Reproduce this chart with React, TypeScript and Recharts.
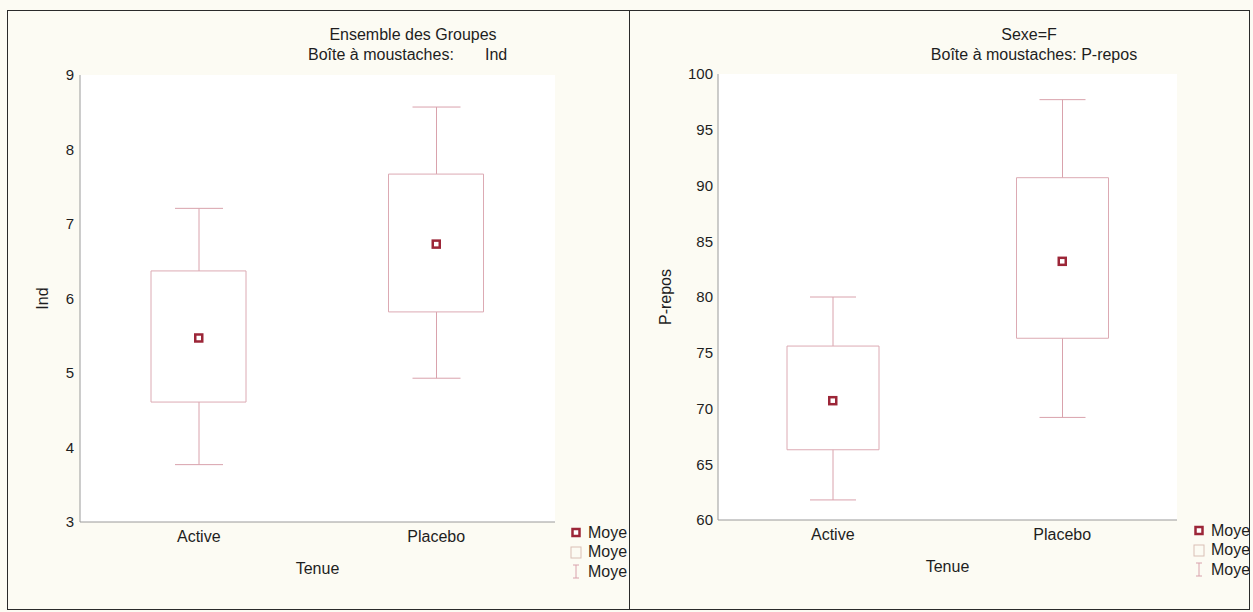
import React from "react";
import { ComposedChart, Bar, Line, XAxis, YAxis, CartesianGrid } from "recharts";

const categories = ["Active", "Placebo"];

// Ensemble des Groupes - Ind
const indMin = [3.77, 4.93];
const indQ1 = [4.61, 5.82];
const indMean = [5.47, 6.73];
const indQ3 = [6.37, 7.67];
const indMax = [7.21, 8.57];
const indTicks = [3, 4, 5, 6, 7, 8, 9];

// Sexe=F - P-repos
const repMin = [61.8, 69.2];
const repQ1 = [66.3, 76.3];
const repMean = [70.7, 83.2];
const repQ3 = [75.6, 90.7];
const repMax = [80.0, 97.7];
const repTicks = [60, 65, 70, 75, 80, 85, 90, 95, 100];

// legend entries, shown cut at the frame in the source
const legendLabels = ["Moye", "Moye", "Moye"];

const BG = "#fcfbf3";
const BOX = "#dcaab3";
const WHISKER = "#d9a2ac";
const MEAN = "#9c2638";
const FRAME = "#9a9a9a";
const TEXT = "#1e1e1e";
const FONT = "'Liberation Sans', Arial, sans-serif";

const rows = (mn: number[], q1: number[], mean: number[], q3: number[], mx: number[]) =>
  categories.map((name, i) => ({ name, min: mn[i], q1: q1[i], mean: mean[i], q3: q3[i], max: mx[i] }));

// eslint-disable-next-line @typescript-eslint/no-explicit-any
const Whisker = (props: any) => {
  const { x, y, width, height } = props;
  const top = Math.min(y, y + height);
  const bot = Math.max(y, y + height);
  const cx = x + width / 2;
  return (
    <g stroke={WHISKER} strokeWidth={1} fill="none">
      <line x1={cx} x2={cx} y1={top} y2={bot} />
      <line x1={x} x2={x + width} y1={top} y2={top} />
      <line x1={x} x2={x + width} y1={bot} y2={bot} />
    </g>
  );
};

// eslint-disable-next-line @typescript-eslint/no-explicit-any
const MeanDot = (props: any) => {
  const { cx, cy } = props;
  if (cx == null || cy == null) return null;
  return <rect x={cx - 3.5} y={cy - 3.5} width={7} height={7} fill="#fff" stroke={MEAN} strokeWidth={2.5} />;
};

interface PanelProps {
  // eslint-disable-next-line @typescript-eslint/no-explicit-any
  data: any[];
  ticks: number[];
  yLabel: string;
  left: number;
  width: number;
  margin: { top: number; right: number; bottom: number; left: number };
  yLabelOffset: number;
  yTickMargin: number;
  boxSize: number;
  rightEdge: string;
}

function BoxPanel({ data, ticks, yLabel, left, width, margin, yLabelOffset, yTickMargin, boxSize, rightEdge }: PanelProps) {
  const domain: [number, number] = [ticks[0], ticks[ticks.length - 1]];
  return (
    <div style={{ position: "absolute", left, top: 0 }}>
      <ComposedChart width={width} height={612} data={data} margin={margin}>
        <CartesianGrid horizontal={false} vertical={false} fill="#ffffff" stroke="none" />
        <XAxis
          xAxisId="main"
          dataKey="name"
          padding={{ left: 0, right: 0 }}
          height={60}
          tickSize={3}
          tickMargin={6}
          tickLine={false}
          axisLine={{ stroke: FRAME }}
          tick={{ fill: TEXT, fontSize: 16 }}
          label={{ value: "Tenue", position: "insideBottom", offset: 8, fill: TEXT, fontSize: 16 }}
        />
        <XAxis xAxisId="w" dataKey="name" hide />
        <XAxis
          xAxisId="top"
          dataKey="name"
          orientation="top"
          mirror
          height={0}
          tickSize={3}
          tickFormatter={() => ""}
          axisLine={{ stroke: FRAME }}
          tickLine={{ stroke: FRAME }}
        />
        <YAxis
          yAxisId={0}
          domain={domain}
          ticks={ticks}
          type="number"
          allowDataOverflow
          width={60}
          tickSize={3}
          tickMargin={yTickMargin}
          tickLine={false}
          axisLine={{ stroke: FRAME }}
          tick={{ fill: TEXT, fontSize: 15 }}
          label={{
            value: yLabel,
            angle: -90,
            position: "insideLeft",
            offset: yLabelOffset,
            fill: TEXT,
            fontSize: 16,
            style: { textAnchor: "middle" },
          }}
        />
        <YAxis
          yAxisId="r"
          orientation="right"
          domain={domain}
          ticks={ticks}
          type="number"
          allowDataOverflow
          mirror
          width={0}
          tickSize={3}
          tickFormatter={() => ""}
          axisLine={{ stroke: rightEdge }}
          tickLine={{ stroke: FRAME }}
        />
        <Bar
          xAxisId="w"
          dataKey={(d: { min: number; max: number }) => [d.min, d.max]}
          barSize={Math.round(boxSize / 2)}
          shape={<Whisker />}
          isAnimationActive={false}
        />
        <Bar
          xAxisId="main"
          dataKey={(d: { q1: number; q3: number }) => [d.q1, d.q3]}
          barSize={boxSize}
          fill="#ffffff"
          stroke={BOX}
          strokeWidth={1}
          isAnimationActive={false}
        />
        <Line
          xAxisId="main"
          dataKey="mean"
          stroke="none"
          dot={<MeanDot />}
          activeDot={false}
          isAnimationActive={false}
        />
      </ComposedChart>
    </div>
  );
}

function LegendBlock({ x, y }: { x: number; y: number }) {
  return (
    <div style={{ position: "absolute", left: x, top: y, width: 62, height: 60 }}>
      {legendLabels.map((lab, i) => (
        <div key={i} style={{ position: "absolute", left: 0, top: i * 19.5, height: 19, display: "flex", alignItems: "center" }}>
          <svg width={18} height={19} style={{ display: "block" }}>
            {i === 0 && <rect x={4.5} y={6} width={7} height={7} fill="#fff" stroke={MEAN} strokeWidth={2.5} />}
            {i === 1 && <rect x={3} y={4} width={10} height={11} fill="none" stroke="#d9c0b6" strokeWidth={1} />}
            {i === 2 && (
              <g stroke={WHISKER} strokeWidth={1}>
                <line x1={8} x2={8} y1={3} y2={16} />
                <line x1={5} x2={11} y1={3} y2={3} />
                <line x1={5} x2={11} y1={16} y2={16} />
              </g>
            )}
          </svg>
          <span style={{ fontSize: 16, color: TEXT, whiteSpace: "nowrap", marginLeft: 2 }}>{lab}</span>
        </div>
      ))}
    </div>
  );
}

const titleStyle: React.CSSProperties = {
  position: "absolute",
  fontSize: 16,
  lineHeight: "20px",
  color: TEXT,
  whiteSpace: "pre",
};

export default function App() {
  const indData = rows(indMin, indQ1, indMean, indQ3, indMax);
  const repData = rows(repMin, repQ1, repMean, repQ3, repMax);

  return (
    <div
      style={{
        position: "absolute",
        left: 0,
        top: 0,
        width: 1253,
        height: 612,
        background: BG,
        overflow: "hidden",
        fontFamily: FONT,
      }}
    >
      <BoxPanel
        data={indData}
        ticks={indTicks}
        yLabel="Ind"
        left={0}
        width={630}
        margin={{ top: 75, right: 75, bottom: 30, left: 20 }}
        yLabelOffset={22}
        yTickMargin={3}
        boxSize={95}
        rightEdge={FRAME}
      />
      <BoxPanel
        data={repData}
        ticks={repTicks}
        yLabel="P-repos"
        left={630}
        width={623}
        margin={{ top: 74, right: 76, bottom: 32, left: 28 }}
        yLabelOffset={7}
        yTickMargin={2}
        boxSize={92}
        rightEdge="#8494c8"
      />

      {/* titles */}
      <div style={{ ...titleStyle, left: 413, top: 25, transform: "translateX(-50%)" }}>Ensemble des Groupes</div>
      <div style={{ ...titleStyle, left: 308, top: 45 }}>Boîte à moustaches:</div>
      <div style={{ ...titleStyle, left: 485, top: 45 }}>Ind</div>
      <div style={{ ...titleStyle, left: 1029, top: 25, transform: "translateX(-50%)" }}>Sexe=F</div>
      <div style={{ ...titleStyle, left: 1034, top: 45, transform: "translateX(-50%)" }}>Boîte à moustaches: P-repos</div>

      <LegendBlock x={568} y={523} />
      <LegendBlock x={1191} y={521} />

      {/* panel frames */}
      <div style={{ position: "absolute", left: 7, top: 10, width: 623, height: 600, border: "1.5px solid #2a2a2a", boxSizing: "border-box" }} />
      <div style={{ position: "absolute", left: 629, top: 10, width: 621, height: 600, border: "1.5px solid #2a2a2a", boxSizing: "border-box" }} />
    </div>
  );
}
